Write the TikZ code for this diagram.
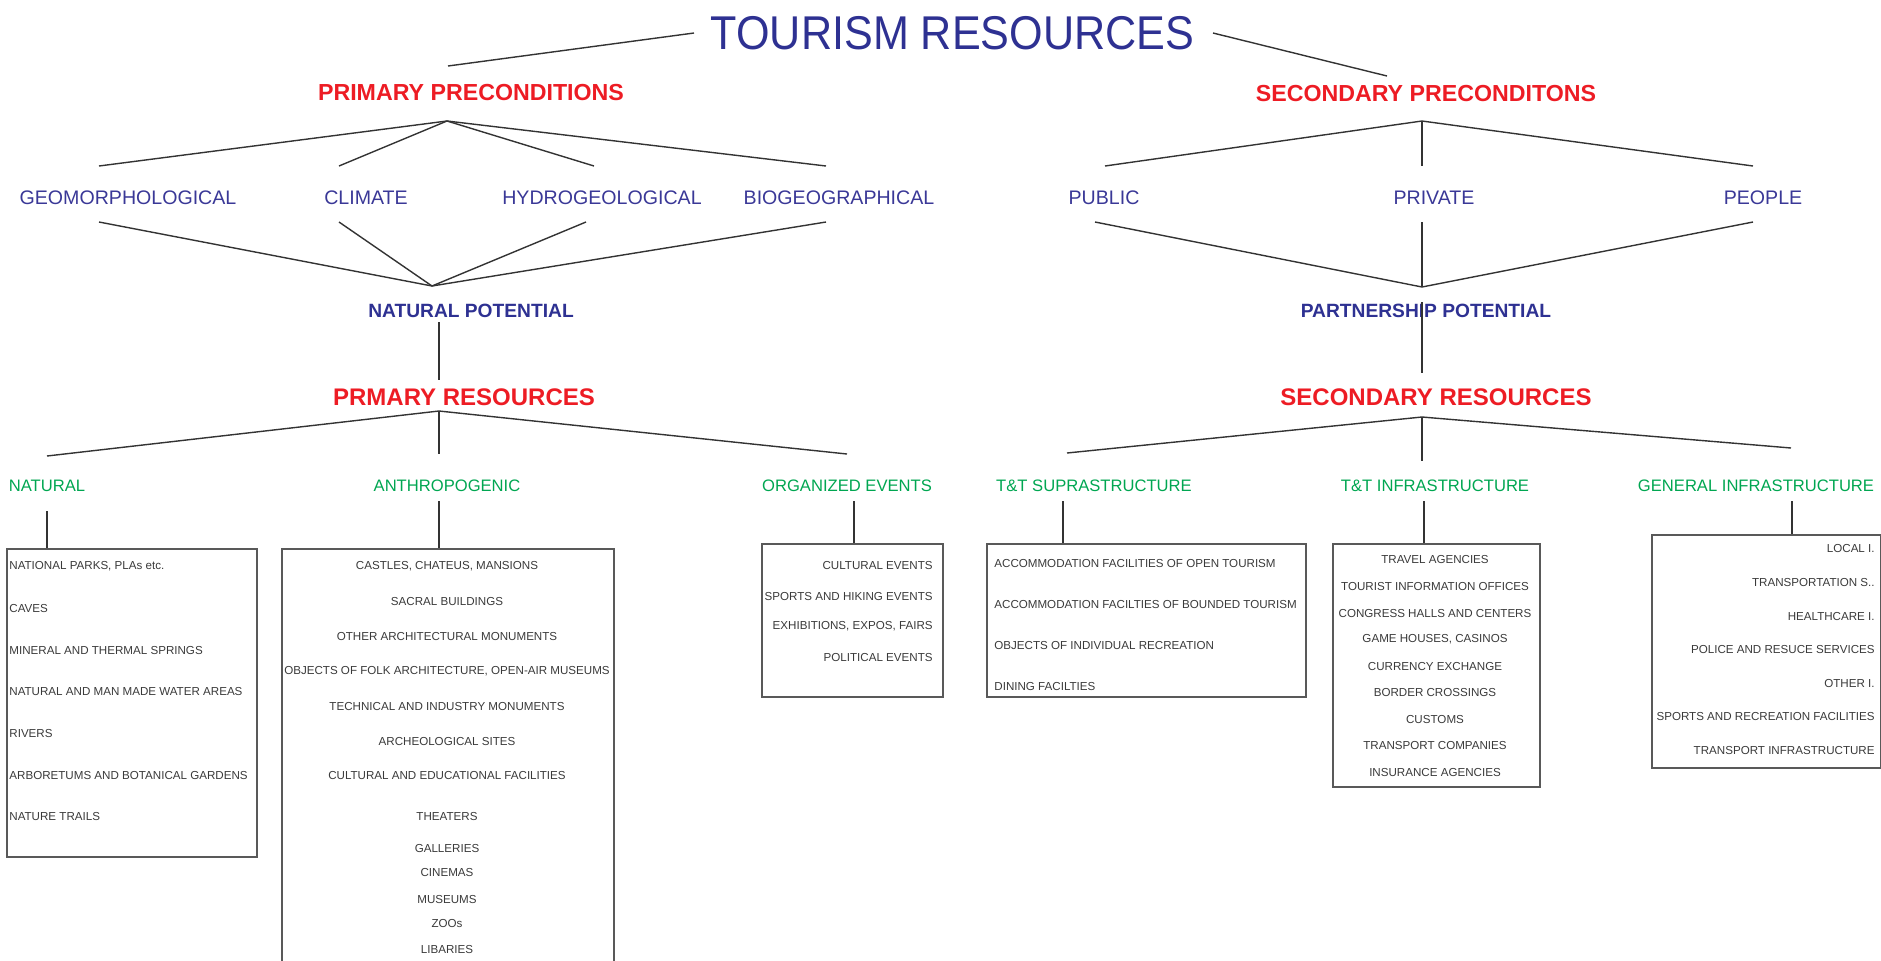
\documentclass[tikz,border=0pt]{standalone}
\usepackage{fontspec}
\setmainfont{Liberation Sans}
\newfontfamily\titlefont[FakeStretch=0.91]{Liberation Sans}
\usetikzlibrary{positioning,calc}
\definecolor{tnavy}{HTML}{2E3192}
\definecolor{fnavy}{HTML}{3A3897}
\definecolor{pred}{HTML}{ED1C24}
\definecolor{rgreen}{HTML}{00A651}
\definecolor{igray}{HTML}{3A3A3A}
\newcommand{\sz}[1]{\fontsize{#1}{#1}\selectfont}

\begin{document}
\begin{tikzpicture}[x=0.5pt,y=-0.5pt]
\tikzstyle{conn}=[line width=0.7pt,black!80]
\tikzstyle{listbox}=[draw=black!65,line width=0.8pt,inner sep=0pt,anchor=north west]
\tikzstyle{maintitle}=[font=\titlefont\sz{23.7},text=tnavy,inner sep=0pt]
\tikzstyle{precond}=[font=\bfseries\sz{11.6},text=pred,inner sep=0pt]
\tikzstyle{factor}=[font=\sz{9.8},text=fnavy,inner sep=0pt]
\tikzstyle{potential}=[font=\bfseries\sz{9.6},text=tnavy,inner sep=0pt]
\tikzstyle{restype}=[font=\sz{8.3},text=rgreen,inner sep=0pt]
\tikzstyle{entry}=[font=\sz{5.8},text=igray,inner sep=0pt,text depth=0pt]
\useasboundingbox (0,0) rectangle (1881,960);

\node[maintitle] (title) at (952.5,33) {TOURISM RESOURCES};

% preconditions
\node[precond] (ppre) at (471,93) {PRIMARY PRECONDITIONS};
\node[precond] (spre) at (1426,94) {SECONDARY PRECONDITONS};

\node[factor] (geo) at (128,198) {GEOMORPHOLOGICAL};
\node[factor] (cli) at (366,198) {CLIMATE};
\node[factor] (hyd) at (602,198) {HYDROGEOLOGICAL};
\node[factor] (bio) at (839,198) {BIOGEOGRAPHICAL};
\node[factor] (pub) at (1104,198) {PUBLIC};
\node[factor] (pri) at (1434,198) {PRIVATE};
\node[factor] (peo) at (1763,198) {PEOPLE};

\node[potential] (natpot) at (471,311) {NATURAL POTENTIAL};
\node[potential] (parpot) at (1426,311) {PARTNERSHIP POTENTIAL};

\node[precond,font=\bfseries\sz{12}] (pres) at (464,397) {PRMARY RESOURCES};
\node[precond,font=\bfseries\sz{12}] (sres) at (1436,397) {SECONDARY RESOURCES};

\node[restype] (nat) at (47,486) {NATURAL};
\node[restype] (ant) at (447,486) {ANTHROPOGENIC};
\node[restype] (org) at (847,486) {ORGANIZED EVENTS};
\node[restype] (sup) at (1094,486) {T\&T SUPRASTRUCTURE};
\node[restype] (inf) at (1435,486) {T\&T INFRASTRUCTURE};
\node[restype] (gen) at (1756,486) {GENERAL INFRASTRUCTURE};

% line ends
\coordinate (t-l) at (694,33);   \coordinate (pp-top) at (448,66);
\coordinate (t-r) at (1213,33);  \coordinate (sp-top) at (1387,76);
\coordinate (pp-apex) at (447,121);
\coordinate (geo-up) at (99,166);  \coordinate (cli-up) at (339,166);
\coordinate (hyd-up) at (594,166); \coordinate (bio-up) at (826,166);
\coordinate (geo-dn) at (99,222);  \coordinate (cli-dn) at (339,222);
\coordinate (hyd-dn) at (586,222); \coordinate (bio-dn) at (826,222);
\coordinate (np-apex) at (432,286);
\coordinate (np-dn) at (439,322);  \coordinate (pr-up) at (439,380);
\coordinate (pr-apex) at (439,411);
\coordinate (nat-up) at (47,456);  \coordinate (ant-up) at (439,454);
\coordinate (org-up) at (847,454);
\coordinate (sp-apex) at (1422,121);
\coordinate (pub-up) at (1105,166); \coordinate (pri-up) at (1422,166);
\coordinate (peo-up) at (1753,166);
\coordinate (pub-dn) at (1095,222); \coordinate (pri-dn) at (1422,222);
\coordinate (peo-dn) at (1753,222);
\coordinate (pp2-apex) at (1422,287);
\coordinate (pa-dn) at (1422,302); \coordinate (sr-up) at (1422,373);
\coordinate (sr-apex) at (1422,417);
\coordinate (sup-up) at (1067,453); \coordinate (inf-up) at (1422,461);
\coordinate (gen-up) at (1791,448);
\coordinate (nat-dn) at (47,511);  \coordinate (ant-dn) at (439,501);
\coordinate (org-dn) at (854,501); \coordinate (sup-dn) at (1063,501);
\coordinate (inf-dn) at (1424,501); \coordinate (gen-dn) at (1792,501);

\draw[conn] (t-l) -- (pp-top);
\draw[conn] (t-r) -- (sp-top);
\foreach \e in {geo-up,cli-up,hyd-up,bio-up}
  \draw[conn] (pp-apex) -- (\e);
\foreach \e in {geo-dn,cli-dn,hyd-dn,bio-dn}
  \draw[conn] (\e) -- (np-apex);
\draw[conn] (np-dn) -- (pr-up);
\foreach \e in {nat-up,ant-up,org-up}
  \draw[conn] (pr-apex) -- (\e);
\foreach \e in {pub-up,pri-up,peo-up}
  \draw[conn] (sp-apex) -- (\e);
\foreach \e in {pub-dn,pri-dn,peo-dn}
  \draw[conn] (\e) -- (pp2-apex);
\draw[conn] (pa-dn) -- (sr-up);
\foreach \e in {sup-up,inf-up,gen-up}
  \draw[conn] (sr-apex) -- (\e);

% boxes (sizes in pt, half the pixel values)
\node[listbox,minimum width=125pt,minimum height=154pt] (natbox) at (6,548) {};
\node[listbox,minimum width=166pt,minimum height=220pt] (antbox) at (281,548) {};
\node[listbox,minimum width=90.5pt,minimum height=76.5pt] (orgbox) at (761,543) {};
\node[listbox,minimum width=159.5pt,minimum height=76.5pt] (supbox) at (986,543) {};
\node[listbox,minimum width=103.5pt,minimum height=121.5pt] (infbox) at (1332,543) {};
\node[listbox,minimum width=114.5pt,minimum height=116.5pt] (genbox) at (1651,534) {};

\foreach \s in {nat,ant,org,sup,inf,gen}
  \draw[conn] (\s-dn) -- (\s-dn |- \s box.north);

\foreach \txt/\yy [count=\i] in {{NATIONAL PARKS, PLAs etc.}/565, CAVES/608,
    MINERAL AND THERMAL SPRINGS/650, NATURAL AND MAN MADE WATER AREAS/691,
    RIVERS/733, ARBORETUMS AND BOTANICAL GARDENS/775, NATURE TRAILS/816}
  \node[entry,anchor=west] (nat-\i) at (9,\yy) {\txt};

\foreach \txt/\yy [count=\i] in {{CASTLES, CHATEUS, MANSIONS}/565, SACRAL BUILDINGS/601,
    OTHER ARCHITECTURAL MONUMENTS/636,
    {OBJECTS OF FOLK ARCHITECTURE, OPEN-AIR MUSEUMS}/670,
    TECHNICAL AND INDUSTRY MONUMENTS/706, ARCHEOLOGICAL SITES/741,
    CULTURAL AND EDUCATIONAL FACILITIES/775, THEATERS/816, GALLERIES/848,
    CINEMAS/872, MUSEUMS/899, ZOOs/923, LIBARIES/949}
  \node[entry] (ant-\i) at (447,\yy) {\txt};

\foreach \txt/\yy [count=\i] in {CULTURAL EVENTS/565, SPORTS AND HIKING EVENTS/596,
    {EXHIBITIONS, EXPOS, FAIRS}/625, POLITICAL EVENTS/657}
  \node[entry,anchor=east] (org-\i) at (933,\yy) {\txt};

\foreach \txt/\yy [count=\i] in {ACCOMMODATION FACILITIES OF OPEN TOURISM/563,
    ACCOMMODATION FACILTIES OF BOUNDED TOURISM/604,
    OBJECTS OF INDIVIDUAL RECREATION/645, DINING FACILTIES/686}
  \node[entry,anchor=west] (sup-\i) at (994,\yy) {\txt};

\foreach \txt/\yy [count=\i] in {TRAVEL AGENCIES/559, TOURIST INFORMATION OFFICES/586,
    CONGRESS HALLS AND CENTERS/613, {GAME HOUSES, CASINOS}/638,
    CURRENCY EXCHANGE/666, BORDER CROSSINGS/692, CUSTOMS/719,
    TRANSPORT COMPANIES/745, INSURANCE AGENCIES/772}
  \node[entry] (inf-\i) at (1435,\yy) {\txt};

\foreach \txt/\yy [count=\i] in {LOCAL I./548, TRANSPORTATION S../582, HEALTHCARE I./616,
    POLICE AND RESUCE SERVICES/649, OTHER I./683,
    SPORTS AND RECREATION FACILITIES/716, TRANSPORT INFRASTRUCTURE/750}
  \node[entry,anchor=east] (gen-\i) at (1875,\yy) {\txt};

\end{tikzpicture}
\end{document}
